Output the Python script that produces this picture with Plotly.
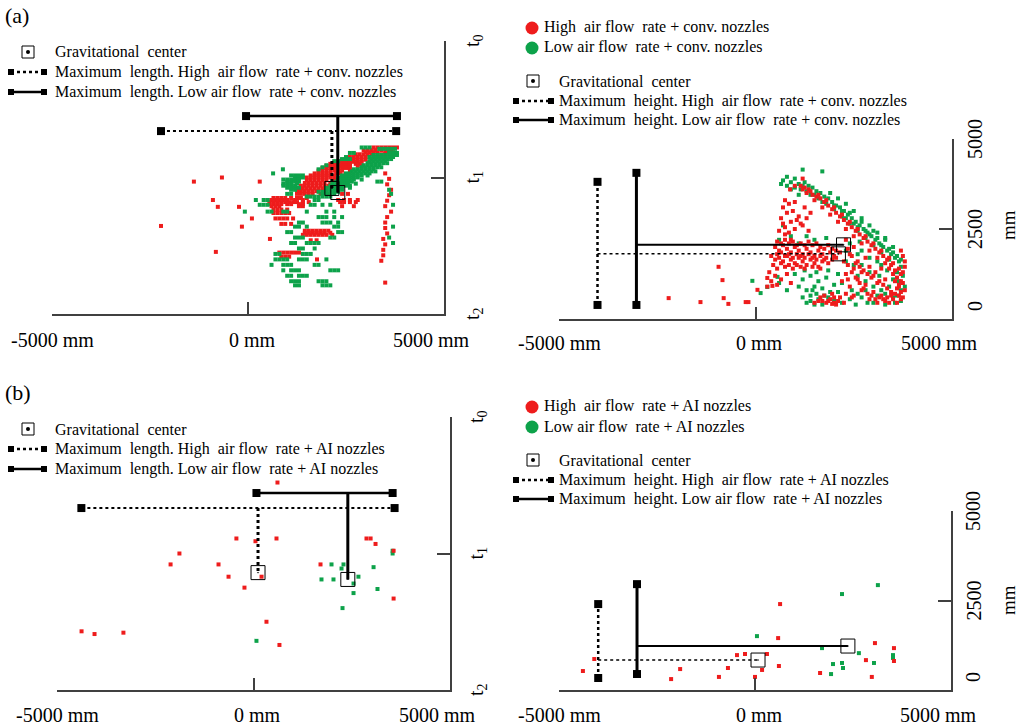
# droplet clouds: horizontal length over time (left) and height (right)
# (a) conventional nozzles, (b) AI nozzles

import plotly.graph_objects as go

W, H = 1024, 728
FONT = "Liberation Serif"
RED = "#ee1c1c"
GREEN = "#0da24a"
INK = "black"
AXIS = "#404040"

# ---- axis ticks ----
x_ticks = [-5000, 0, 5000]
x_tick_text = ["-5000 mm", "0 mm", "5000 mm"]
t_ticks = [0, 1, 2]
t_tick_text = ["t<sub>0</sub>", "t<sub>1</sub>", "t<sub>2</sub>"]
h_ticks = [0, 2500, 5000]
h_tick_text = ["0", "2500", "5000"]

# ---- (a) conventional nozzles, length vs time (one row per time step) ----
a_len_high_rows_t = [0.78, 0.80, 0.815, 0.83, 0.85, 0.87, 0.885, 0.90, 0.915, 0.93, 0.95, 0.97,
                     0.985, 1.00, 1.02, 1.04, 1.06, 1.08, 1.10, 1.12, 1.15, 1.165, 1.18, 1.195,
                     1.21, 1.235, 1.26, 1.30, 1.34, 1.39, 1.405, 1.42, 1.46, 1.55, 1.58]
a_len_high_rows_x = [
    [3200, 3300, 3400, 3500, 3600, 3700, 3800],
    [2950, 3050, 3150, 3250, 3400, 3550, 3650],
    [3000, 3100, 3200, 3300, 3500, 3600, 3700],
    [2750, 2850, 2950, 3050, 3150, 3300, 3400, 3500],
    [2600, 2700, 2800, 2900, 3000, 3100, 3300, 3400],
    [2400, 2500, 2600, 2700, 2800, 2900, 3000],
    [2300, 2400, 2500, 2600, 2700, 2800, 2900, 3100],
    [2100, 2200, 2300, 2400, 2500, 2600, 2750, 2850],
    [2000, 2100, 2200, 2300, 2400, 2500, 2600, 2800, 2900],
    [1900, 2000, 2100, 2200, 2300, 2400, 2500, 2600],
    [1800, 1900, 2000, 2100, 2200, 2300, 2400, 2600],
    [1700, 1800, 1900, 2000, 2100, 2250, 2350],
    [1600, 1700, 1800, 1900, 2000, 2100, 2200, 2400],
    [1500, 1600, 1700, 1800, 1900, 2000, 2100, 2200],
    [1500, 1600, 1700, 1800, 1900, 2000, 2200],
    [1450, 1550, 1650, 1750, 1850, 1950, 2100],
    [1350, 1450, 1550, 1650, 1750, 1850, 1950, 2050],
    [1300, 1400, 1500, 1600, 1700, 1800, 1900, 2000, 2300],
    [1250, 1350, 1450, 1550, 1650, 1750, 1900],
    [1250, 1350, 1450, 1550, 1650, 1850, 2050, 2400, 2550],
    [650, 750, 850, 950, 1100, 1250, 1350, 1500],
    [500, 600, 700, 800, 900, 1000, 1200, 1400, 2300, 2450, 2600, 2800],
    [550, 650, 750, 850, 950, 1050, 1150, 1250, 1400, 1550, 2350, 2450, 2600, 2750],
    [550, 650, 750, 850, 1000, 1100, 1300, 1400],
    [600, 700, 800, 1300, 1400, 2400, 2700],
    [650, 750, 850, 1000],
    [650, 750, 850, 950, 1050],
    [700, 800, 900, 1000, 1150],
    [850, 950, 1100],
    [1450, 1550, 1650, 1750, 1850, 1950, 2050],
    [1450, 1550, 1650, 1750, 1850, 1950, 2100],
    [1400, 1500, 1600, 1700, 1800, 1900, 2000, 2150],
    [1600, 1750],
    [800, 900, 1000, 1100, 1200, 1300],
    [850, 950, 1050],
]
# isolated red droplets (right-hand column and stragglers)
a_len_high_x = [3500, 3600, 3550, 3650, 3600, 3550, 3500, 3650, 3550, 3500, 3500, 3550,
                3450, 3500, 3450, 3450, 3400, 3500,
                -1380, -665, 300, -895, -770, -230, -155, -2220, -820, 100, 560, 1760]
a_len_high_t = [0.97, 1.01, 1.05, 1.09, 1.13, 1.17, 1.21, 1.25, 1.29, 1.33, 1.37, 1.41,
                1.45, 1.49, 1.53, 1.57, 1.61, 1.77,
                1.03, 1.00, 1.03, 1.165, 1.215, 1.215, 1.36, 1.355, 1.545, 1.30, 1.45, 1.60]

a_len_low_rows_t = [0.78, 0.79, 0.82, 0.835, 0.85, 0.865, 0.88, 0.895, 0.91, 0.925, 0.94,
                    0.955, 0.97, 0.985, 1.00, 1.015, 1.03, 1.045, 1.06, 1.075, 1.09, 1.105,
                    1.12, 1.14, 1.165, 1.20, 1.25, 1.29, 1.33, 1.36, 1.40, 1.44, 1.48, 1.52,
                    1.56, 1.60, 1.64, 1.68, 1.72, 1.76, 1.79]
a_len_low_rows_x = [
    [2900, 3000, 3100],
    [3350, 3450, 3550, 3650, 3750],
    [2600, 2700, 3600, 3700, 3800],
    [3200, 3300, 3400, 3500, 3600, 3700, 3800],
    [2500, 3100, 3200, 3300, 3400, 3500, 3600, 3700],
    [2400, 2500, 2600, 3150, 3250, 3350, 3450, 3550, 3650],
    [2200, 2300, 3100, 3200, 3300, 3400, 3500],
    [3050, 3150, 3250, 3350, 3450, 3550],
    [2000, 2950, 3050, 3150, 3250, 3350],
    [1900, 2900, 3000, 3100, 3200, 3300, 3400],
    [890, 1800, 2700, 2800, 2900, 3000, 3100, 3200],
    [2650, 2750, 2850, 2950, 3050, 3150, 3250],
    [640, 2500, 2600, 2700, 2800, 2900, 3000, 3100],
    [1100, 1200, 1300, 1400, 2400, 2500, 2600, 2700, 2800, 2900, 3050],
    [1200, 1300, 1400, 2300, 2400, 2500, 2600, 2700, 2800],
    [900, 1000, 1100, 1200, 1300, 2300, 2400, 2500, 2600, 2700, 2900],
    [1000, 1100, 1200, 1300, 2250, 2350, 2450, 2550, 2650, 3300, 3400],
    [900, 1000, 1100, 1250, 2150, 2250, 2350, 2450, 2550, 2750],
    [900, 1000, 1100, 1200, 2100, 2200, 2300, 2400, 2500, 2600],
    [1000, 1100, 1200, 1300, 2000, 2100, 2200, 2300, 2400, 2600],
    [1100, 1200, 2000, 2100, 2200, 2300, 2400, 3600],
    [1800, 1900, 2000, 2100, 2200, 2300],
    [1000, 1100, 1900, 2000, 2100, 2200, 3650],
    [1500, 1600, 1700, 1800, 1900, 2000, 2100],
    [200, 400, 500, 1700, 1800],
    [300, 400, 500, 1600, 1700, 1900, 2100, 3700],
    [-80, 500, 600, 900, 1000, 1500, 2000, 2200],
    [1800, 1900, 2000, 2200, 2400],
    [1300, 1400, 1900, 2000, 2100, 2300],
    [1200, 1300, 1500, 2200, 2300, 3700],
    [1000, 1100, 2300, 2400],
    [1200, 1300, 1400, 2100, 2200, 3600],
    [1100, 1200, 1500, 1600, 1700, 1800, 3700],
    [1300, 1400, 1700],
    [700, 800, 1400, 1500, 1600],
    [700, 800, 900, 1000, 1300, 1400, 1500, 2000],
    [600, 900, 1000, 1100, 1700, 1800],
    [900, 1100, 1200, 1300, 2100, 2200, 2300],
    [1000, 1100, 1300, 1400, 1500],
    [1100, 1200, 1300, 1800, 1900, 2000],
    [1200, 1300, 1900, 2000, 2100],
]

# ---- (a) conventional nozzles, height ----
a_hgt_high_x = [1150, 1250, 1350, 1300, 1450, 1550, 1500, 1650, 1750, 1850, 1700, 1950, 2050,
                1900, 2150, 2250, 2100, 2350, 2450, 2300, 2550, 2650, 2500, 2750, 2850, 2700,
                2950, 3050, 2900, 3150, 3250, 3100, 3350, 3300, 3450, 3400, 3550, 3500, 3600,
                3550, 3650, 3600, 3700, 3650, 3700, 3600, 3750, 3800, 3700,
                1200, 1400, 1600, 1800, 2000, 2200, 2400, 2600, 2800, 3000, 3200, 3400, 3500,
                3650, 3700, 3750, 3800, 3750,
                880, 1000, 1200,
                700, 800, 650, 900, 750, 1000, 850, 1100, 950, 1200,
                750, 850, 1000, 700, 1050, 1150, 1300, 1400, 1250, 600, 1350, 900, 750,
                500, 600, 700, 800, 900, 1000, 1100, 1200, 1300, 1400, 1500, 1600, 1700, 1800,
                1900, 2000, 600, 700, 800, 900, 1000, 1100, 1200, 1300, 1400, 1500, 1600, 1700,
                1850, 450, 550, 750, 950, 1150,
                550, 650, 750, 850, 950, 1050, 1150, 1250, 1350, 1450, 1550, 1650, 1750, 1850,
                1950, 2050, 2150, 550, 650, 750, 850, 950, 1050, 1150, 1250, 1350, 1450, 1550,
                1650, 1750, 1950, 2050, 650, 850, 1050, 1250, 1450, 1650, 500, 400,
                350, 500, 650, 400, 800, 550, 900, 300,
                -2210, -1400, -840, -940, -810, -690, -250, -180, 50, 300, 430,
                1700, 1800, 1900, 2000, 2100, 1750, 1950, 2150, 1500, 2050,
                1600, 1850, 1950, 2250, 1650, 2000,
                2300, 2500, 2400, 2600, 2800, 2500, 2700, 2900, 3000, 2600, 2800, 3100, 2400,
                2700, 3000, 3200, 2500, 2300, 3300, 3200, 2900, 3100, 3300, 3400, 3500, 2200, 2300,
                2350, 2450, 2550, 2650, 2750, 2850, 2950, 3050, 3150, 3250, 3350, 3450, 2350,
                2450, 2550, 2650, 2750, 2850, 2950, 3050, 3150, 3250, 3350, 3450, 3550, 3650,
                3700, 3750, 3800, 2250, 2350, 2450]
a_hgt_high_y = [3700, 3650, 3600, 3500, 3450, 3400, 3300, 3350, 3250, 3150, 3100, 3050, 2950,
                2900, 2850, 2750, 2700, 2650, 2550, 2500, 2450, 2350, 2300, 2250, 2150, 2100,
                2050, 1950, 1900, 1850, 1750, 1700, 1650, 1550, 1500, 1400, 1350, 1250, 1150,
                1050, 950, 850, 750, 650, 550, 450, 1750, 1600, 1900,
                3600, 3550, 3450, 3300, 3100, 2900, 2700, 2500, 2300, 2100, 1900, 1700, 1550,
                1400, 1250, 1000, 800, 600,
                3600, 3700, 3900,
                3100, 2950, 2800, 2700, 2550, 2500, 2400, 2850, 3000, 2600,
                3300, 3200, 3250, 2650, 2750, 2650, 2800, 2950, 3100, 2450, 2450, 2200, 2350,
                2000, 1900, 2050, 1950, 1850, 2000, 1900, 1800, 1950, 1850, 1750, 1900, 1800, 1700,
                1850, 1750, 1700, 1600, 1750, 1650, 1550, 1700, 1600, 1500, 1650, 1550, 1450, 1600,
                1550, 1500, 1400, 1450, 1400, 1450,
                2150, 2100, 2200, 2100, 2150, 2050, 2100, 2050, 2150, 2050, 2100, 2000, 1950, 2050,
                1950, 1900, 1850, 1800, 1850, 1750, 1800, 1700, 1800, 1750, 1700, 1800, 1700, 1650,
                1750, 1650, 1650, 1700, 1550, 1500, 1500, 1400, 1450, 1400, 1650, 1750,
                1300, 1200, 1100, 1050, 1250, 950, 1000, 900,
                580, 470, 1080, 1450, 580, 420, 470, 470, 810, 1140, 920,
                500, 450, 550, 450, 500, 650, 700, 600, 450, 400,
                500, 500, 420, 450, 600, 600,
                2200, 2000, 1800, 1600, 1700, 1400, 1300, 1450, 1200, 1100, 950, 1000, 900,
                800, 750, 650, 650, 1250, 1100, 1400, 550, 450, 500, 450, 550, 1050, 700,
                1950, 1750, 1550, 1450, 1350, 1250, 1150, 1300, 1050, 950, 850, 750, 1500,
                1300, 1150, 1000, 850, 700, 650, 550, 600, 550, 600, 650, 700, 900,
                1050, 1300, 1450, 1600, 1100, 600]

a_hgt_low_x = [700, 800, 1200, 1700, 650, 900, 1000, 1100, 1250, 1350, 1450, 1150, 1550, 1650,
               1400, 1750, 1850, 1950, 1700, 2050, 2150, 2000, 2250, 2350, 2200, 2450, 2550,
               2400, 2650, 2750, 2600, 2850, 2950, 2800, 3050, 3150, 3000, 3250, 3350, 3200,
               3450, 3550, 3400, 3650, 3700, 3600, 3750, 3650, 3800, 3700, 3600, 1900, 2100,
               2300, 2500, 2700, 2900, 3100, 3300, 3500,
               1000, 1200, 1300, 1500, 1600, 1800, 2000, 2200, 2300, 2500, 2600, 2800, 2900,
               3100, 3200, 3400, 3500, 3600, 3700, 800, 900, 1100, 2400, 2700, 3000, 3300,
               700, 900, 1300, 1500, 600, 1800, 1100,
               1000, 1200, 1400, 1600, 1800, 2000, 1100, 1300, 1500, 1700, 1900, 2100, 800, 600,
               1200, 1450, 1750, 2000, 2100, 2400, 2600, 2800, 3100, 3500, 3700, 1250, 1550,
               1850, 2200, 2300, 2600, 2900, 3200, 2700,
               -80, 130, 300, 560,
               1300, 1400, 1500, 1600, 1400, 1550, 1700, 1850, 2200,
               2300, 2500, 2700, 2900, 3100, 2600, 2800, 3000, 3200, 2450, 2700, 3000, 3300,
               3400, 3500, 2550, 2850, 3300, 3550, 3150, 3350, 2400, 2650]
a_hgt_low_y = [3850, 3950, 4150, 4100, 3750, 3800, 3900, 3750, 3800, 3700, 3650, 3600, 3550, 3500,
               3450, 3400, 3350, 3250, 3250, 3150, 3100, 3050, 3000, 2900, 2850, 2800, 2700,
               2650, 2600, 2500, 2450, 2400, 2300, 2250, 2200, 2100, 2050, 2000, 1900, 1850,
               1800, 1700, 1650, 1600, 1450, 1300, 1200, 1050, 900, 800, 650, 3500, 3350,
               3200, 3000, 2800, 2600, 2400, 2200, 2000,
               3650, 3700, 3550, 3450, 3350, 3200, 3150, 3000, 2800, 2650, 2550, 2450, 2350,
               2250, 2050, 1950, 1850, 1750, 1650, 3700, 3600, 3450, 2950, 2700, 2450, 2250,
               2600, 2300, 2300, 2200, 2200, 2250, 2100,
               1250, 1100, 1200, 1050, 1150, 950, 900, 800, 900, 850, 750, 1250, 800, 1000,
               600, 800, 650, 500, 750, 550, 700, 800, 650, 600, 500, 1350, 1300,
               1350, 1000, 1900, 1800, 1700, 1500, 1500,
               1060, 720, 890, 1170,
               450, 500, 400, 550, 650, 700, 400, 600, 450,
               1600, 1500, 1900, 1300, 1600, 1200, 1050, 900, 800, 800, 600, 450, 700,
               900, 1100, 400, 450, 400, 450, 1200, 1350, 2100, 2150]

# ---- (b) AI nozzles ----
b_len_high_x = [610, -435, 50, 585, -1885, -2110, -890, -635, -230, 205, 2875, 2980, 3105,
                3565, 1705, 3565, 330, 660, -4375, -4045, -3310]
b_len_high_t = [0.48, 0.89, 0.91, 0.89, 1.00, 1.08, 1.08, 1.17, 1.25, 1.17, 0.89, 0.89, 0.93,
                0.98, 1.08, 1.33, 1.50, 1.67, 1.57, 1.59, 1.58]
b_len_low_x = [1985, 2290, 2240, 1730, 2035, 2545, 2670, 3055, 3155, 2545, 2265, 3540, 3540, 75]
b_len_low_t = [1.08, 1.08, 1.11, 1.19, 1.19, 1.22, 1.17, 1.10, 1.26, 1.29, 1.40, 0.98, 1.00, 1.64]

b_hgt_high_x = [-4390, -4100, -2140, -1910, -920, -690, -460, -255, 0, 180, 305, 590, 610, 640,
                1660, 2830, 2980, 3060, 3545, 3545]
b_hgt_high_y = [530, 865, 305, 585, 365, 615, 975, 1005, 365, 560, 1005, 1450, 670, 2400,
                475, 835, 365, 1310, 1170, 810]
b_hgt_low_x = [50, 1710, 1940, 1990, 2220, 2220, 2245, 2650, 3035, 3135, 3520, 3520]
b_hgt_low_y = [1505, 1170, 445, 725, 2680, 755, 615, 1030, 755, 2930, 975, 895]

# ---- maximum extents and gravitational centres ----
a_len_high_span, a_len_high_level, a_len_high_centre = [-2220, 3780], 0.66, [2140, 1.08]
a_len_low_span, a_len_low_level, a_len_low_centre = [-50, 3800], 0.55, [2290, 1.11]
a_hgt_high_span, a_hgt_high_pos, a_hgt_high_centre = [390, 3810], -4020, [2110, 1810]
a_hgt_low_span, a_hgt_low_pos, a_hgt_low_centre = [390, 4060], -3030, [2240, 2060]
b_len_high_span, b_len_high_level, b_len_high_centre = [-4380, 3590], 0.667, [115, 1.14]
b_len_low_span, b_len_low_level, b_len_low_centre = [75, 3540], 0.557, [2400, 1.19]
b_hgt_high_span, b_hgt_high_pos, b_hgt_high_centre = [335, 2400], -4000, [77, 837]
b_hgt_low_span, b_hgt_low_pos, b_hgt_low_centre = [446, 2957], -3010, [2370, 1228]


def fx(px):
    return px / W


def fy(py):
    return 1 - py / H


def expand(rows_t, rows_x):
    xs, ts = [], []
    for t, row in zip(rows_t, rows_x):
        xs += row
        ts += [t] * len(row)
    return xs, ts


fig = go.Figure()


def cloud(xs, ys, color, n):
    fig.add_trace(go.Scatter(x=xs, y=ys, mode="markers", xaxis="x" + n, yaxis="y" + n,
                             marker=dict(symbol="square", size=4, color=color),
                             showlegend=False, hoverinfo="skip"))


def segment(xs, ys, dash, width, n, ends=True):
    fig.add_trace(go.Scatter(x=xs, y=ys, mode="lines+markers" if ends else "lines",
                             xaxis="x" + n, yaxis="y" + n,
                             line=dict(color=INK, width=width, dash=dash),
                             marker=dict(symbol="square", size=8, color=INK),
                             showlegend=False, hoverinfo="skip", cliponaxis=False))


def centre(c, n):
    fig.add_trace(go.Scatter(x=[c[0]], y=[c[1]], mode="markers", xaxis="x" + n, yaxis="y" + n,
                             marker=dict(symbol="square-open-dot", size=14, color=INK,
                                         line=dict(width=1)),
                             showlegend=False, hoverinfo="skip"))


# panel 1: (a) length
xs, ts = expand(a_len_high_rows_t, a_len_high_rows_x)
cloud(xs + a_len_high_x, ts + a_len_high_t, RED, "")
xs, ts = expand(a_len_low_rows_t, a_len_low_rows_x)
cloud(xs, ts, GREEN, "")
segment(a_len_low_span, [a_len_low_level] * 2, "solid", 2.5, "")
segment([a_len_low_centre[0]] * 2, [a_len_low_level, a_len_low_centre[1]], "solid", 3, "", False)
segment(a_len_high_span, [a_len_high_level] * 2, "dot", 2, "")
segment([a_len_high_centre[0]] * 2, [a_len_high_level, a_len_high_centre[1]], "dot", 3, "", False)
centre(a_len_high_centre, "")
centre(a_len_low_centre, "")

# panel 2: (a) height
cloud(a_hgt_low_x, a_hgt_low_y, GREEN, "2")
cloud(a_hgt_high_x, a_hgt_high_y, RED, "2")
segment([a_hgt_high_pos] * 2, a_hgt_high_span, "dot", 2.5, "2")
segment([a_hgt_low_pos] * 2, a_hgt_low_span, "solid", 3, "2")
segment([a_hgt_high_pos, a_hgt_high_centre[0]], [a_hgt_high_centre[1]] * 2, "dot", 1.5, "2", False)
segment([a_hgt_low_pos, a_hgt_low_centre[0]], [a_hgt_low_centre[1]] * 2, "solid", 2, "2", False)
centre(a_hgt_high_centre, "2")
centre(a_hgt_low_centre, "2")

# panel 3: (b) length
cloud(b_len_low_x, b_len_low_t, GREEN, "3")
cloud(b_len_high_x, b_len_high_t, RED, "3")
segment(b_len_low_span, [b_len_low_level] * 2, "solid", 2.5, "3")
segment([b_len_low_centre[0]] * 2, [b_len_low_level, b_len_low_centre[1]], "solid", 3, "3", False)
segment(b_len_high_span, [b_len_high_level] * 2, "dot", 2, "3")
segment([b_len_high_centre[0]] * 2, [b_len_high_level, b_len_high_centre[1]], "dot", 3, "3", False)
centre(b_len_high_centre, "3")
centre(b_len_low_centre, "3")

# panel 4: (b) height
cloud(b_hgt_low_x, b_hgt_low_y, GREEN, "4")
cloud(b_hgt_high_x, b_hgt_high_y, RED, "4")
segment([b_hgt_high_pos] * 2, b_hgt_high_span, "dot", 2.5, "4")
segment([b_hgt_low_pos] * 2, b_hgt_low_span, "solid", 3, "4")
segment([b_hgt_high_pos, b_hgt_high_centre[0]], [b_hgt_high_centre[1]] * 2, "dot", 1.5, "4", False)
segment([b_hgt_low_pos, b_hgt_low_centre[0]], [b_hgt_low_centre[1]] * 2, "solid", 2, "4", False)
centre(b_hgt_high_centre, "4")
centre(b_hgt_low_centre, "4")


def xax(left, right, anchor):
    return dict(domain=[fx(left), fx(right)], range=[-5000, 5000], anchor=anchor,
                showline=True, linecolor=AXIS, linewidth=1.5, ticks="inside", ticklen=12,
                tickwidth=1.5, tickcolor=AXIS, tickvals=x_ticks[:2], showticklabels=False,
                showgrid=False, zeroline=False)


def yax(bottom, top, rng, vals, anchor):
    return dict(domain=[fy(bottom), fy(top)], range=rng, anchor=anchor, side="right",
                showline=True, linecolor=AXIS, linewidth=1.5, ticks="inside", ticklen=13,
                tickwidth=1.5, tickcolor=AXIS, tickvals=vals, showticklabels=False,
                showgrid=False, zeroline=False)


annotations = []
shapes = []


def text(x, y, s, size=16, **kw):
    annotations.append(dict(x=x, y=y, xref=kw.pop("xref", "paper"), yref=kw.pop("yref", "paper"),
                            text=s, showarrow=False, font=dict(family=FONT, size=size, color=INK),
                            xanchor=kw.pop("xanchor", "left"), yanchor="middle", **kw))


def x_labels(n, py):
    for v, s, shift in zip(x_ticks, x_tick_text, [0, 4, -13]):
        text(v, fy(py), s, 20, xref="x" + n, xanchor="center", xshift=shift)


def t_labels(n, px):
    for v, s in zip(t_ticks, t_tick_text):
        text(fx(px), v, s, 20, yref="y" + n, xanchor="center", textangle=-90)


def h_labels(n, px, py_mm):
    for v, s in zip(h_ticks, h_tick_text):
        text(fx(px), v, s, 20, yref="y" + n, xanchor="center", textangle=-90,
             yshift=13 if v == 0 else 0)
    text(fx(1008), fy(py_mm), "mm", 19, xanchor="center", textangle=-90)


def key_centre(px, py):
    shapes.append(dict(type="rect", xref="paper", yref="paper", x0=fx(px - 6), x1=fx(px + 6),
                       y0=fy(py + 6), y1=fy(py - 6), line=dict(color=INK, width=1)))
    shapes.append(dict(type="circle", xref="paper", yref="paper", x0=fx(px - 2), x1=fx(px + 2),
                       y0=fy(py + 2), y1=fy(py - 2), fillcolor=INK, line=dict(width=0)))


def key_rule(px0, px1, py, dash):
    shapes.append(dict(type="line", xref="paper", yref="paper", x0=fx(px0), x1=fx(px1),
                       y0=fy(py), y1=fy(py), line=dict(color=INK, width=2.5, dash=dash)))
    for c in (px0, px1):
        shapes.append(dict(type="rect", xref="paper", yref="paper", x0=fx(c - 3), x1=fx(c + 3),
                           y0=fy(py + 3), y1=fy(py - 3), fillcolor=INK, line=dict(width=0)))


def key_dot(px, py, color):
    shapes.append(dict(type="circle", xref="paper", yref="paper", x0=fx(px - 6.5), x1=fx(px + 6.5),
                       y0=fy(py + 6.5), y1=fy(py - 6.5), fillcolor=color, line=dict(width=0)))


# panel letters
text(fx(3), fy(15), "(a)", 22)
text(fx(3), fy(392), "(b)", 22)

# tick labels
x_labels("", 340)
x_labels("2", 343)
x_labels("3", 715)
x_labels("4", 715)
t_labels("", 473)
t_labels("3", 477)
h_labels("2", 975, 225)
h_labels("4", 973, 600)

# keys of the length panels
for top, noz in [(52, "conv. nozzles"), (429, "AI nozzles")]:
    key_centre(28, top)
    text(fx(53), fy(top), "Gravitational  center")
    key_rule(11, 44, top + 20, "dot")
    text(fx(53), fy(top + 20), "Maximum  length. High  air flow  rate + " + noz)
    key_rule(11, 44, top + 40, "solid")
    text(fx(53), fy(top + 40), "Maximum  length. Low air flow  rate + " + noz)

# keys of the height panels
for top, noz in [(27, "conv. nozzles"), (406, "AI nozzles")]:
    key_dot(532, top + 1, RED)
    text(fx(542), fy(top), "High  air flow  rate + " + noz)
    key_dot(532, top + 21, GREEN)
    text(fx(542), fy(top + 20), "Low air flow  rate + " + noz)
    key_centre(533, top + 54)
    text(fx(557), fy(top + 54), "Gravitational  center")
    key_rule(516, 551, top + 74, "dot")
    text(fx(557), fy(top + 74), "Maximum  height. High  air flow  rate + " + noz)
    key_rule(516, 551, top + 93, "solid")
    text(fx(557), fy(top + 93), "Maximum  height. Low air flow  rate + " + noz)

fig.update_layout(
    width=W, height=H, margin=dict(l=0, r=0, t=0, b=0),
    paper_bgcolor="white", plot_bgcolor="white",
    font=dict(family=FONT, color=INK),
    xaxis=xax(52, 444, "y"), yaxis=yax(314, 41, [2, 0], t_ticks[:2], "x"),
    xaxis2=xax(559, 952, "y2"), yaxis2=yax(319, 139, [0, 5000], h_ticks[1:], "x2"),
    xaxis3=xax(57, 450, "y3"), yaxis3=yax(690, 417, [2, 0], t_ticks[:2], "x3"),
    xaxis4=xax(559, 951, "y4"), yaxis4=yax(690, 511, [0, 5000], h_ticks[1:], "x4"),
    annotations=annotations, shapes=shapes,
)

# the page's default body margin would push the figure off the window
fig.write_html("out.html", config={"displayModeBar": False},
               post_script="document.body.style.margin='0';document.body.style.overflow='hidden';")
